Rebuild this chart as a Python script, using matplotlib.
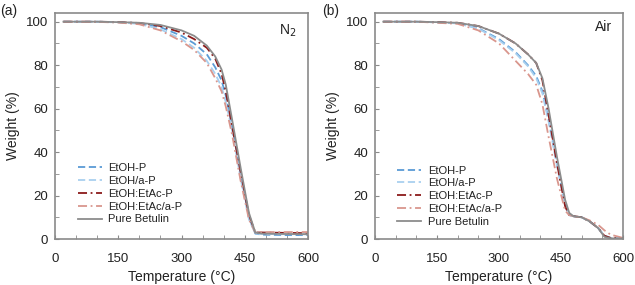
import matplotlib
matplotlib.use("Agg")
import matplotlib.pyplot as plt
from matplotlib.ticker import MultipleLocator

plt.rcParams['font.family'] = ['Liberation Sans', 'DejaVu Sans']

names = ['EtOH-P', 'EtOH/a-P', 'EtOH:EtAc-P', 'EtOH:EtAc/a-P', 'Pure Betulin']
colors = ['#5b9bd5', '#a9d0ef', '#8b1a1a', '#d9968d', '#8c8c8c']
styles = [(0, (4, 2)), (0, (4, 2)), (0, (5, 2, 1, 2)), (0, (5, 2, 1, 2)), '-']

# N2 atmosphere
t_n2 = [20, 100, 150, 200, 250, 300, 330, 360, 380, 395, 405, 420, 440, 460, 475, 490, 550, 600]
n2 = {
    'EtOH-P':        [100, 100, 99.8, 99.3, 97.5, 93.5, 90, 85, 79, 73, 66, 52, 30, 10, 2.5, 2.0, 1.8, 1.8],
    'EtOH/a-P':      [100, 99.9, 99.7, 99.0, 96.5, 92, 88, 82, 76, 70, 63, 50, 28, 9, 2.5, 2.3, 2.2, 2.2],
    'EtOH:EtAc-P':   [100, 100, 99.8, 99.4, 98, 95, 92, 88, 83, 76, 68, 52, 31, 11, 3, 3, 2.8, 2.7],
    'EtOH:EtAc/a-P': [100, 99.9, 99.6, 98.8, 96, 91, 87, 81, 74, 68, 61, 48, 27, 9, 3, 3.2, 3.2, 3.2],
    'Pure Betulin':  [100, 100, 99.8, 99.5, 98.5, 96, 93.5, 89, 84, 78, 71, 55, 33, 12, 3, 2.5, 2.3, 2.2],
}

# Air atmosphere
t_air = [20, 100, 150, 200, 250, 300, 340, 370, 390, 405, 420, 440, 460, 470, 480, 500, 520, 540, 555, 570, 600]
air = {
    'EtOH-P':        [100, 100, 99.7, 99.3, 97, 92, 86, 80, 75, 68, 55, 35, 16, 11, 10.5, 10, 8, 5, 1.5, 0.5, 0.3],
    'EtOH/a-P':      [100, 100, 99.7, 99.2, 96.8, 91.5, 85.5, 79.5, 74, 67, 54, 34, 15, 11, 10.5, 10, 8, 5, 1.5, 0.5, 0.3],
    'EtOH:EtAc-P':   [100, 100, 99.8, 99.5, 98, 94.5, 90, 85, 81, 73, 57, 35, 15, 11, 10.5, 10, 8, 5, 1.5, 0.5, 0.3],
    'EtOH:EtAc/a-P': [100, 100, 99.5, 99, 96, 90, 82, 76, 71, 62, 47, 28, 13, 11, 10.5, 10, 8.5, 6.5, 4, 2, 0.5],
    'Pure Betulin':  [100, 100, 99.8, 99.5, 98, 94.5, 90, 85, 81, 74, 60, 38, 18, 12, 10.5, 10, 8, 5, 1, 0.3, 0.2],
}

fig = plt.figure(figsize=(6.35, 2.85), dpi=100)
ax1 = fig.add_axes([55/635, 1-239/285, 253/635, 226/285])
ax2 = fig.add_axes([375/635, 1-239/285, 248/635, 226/285])

def style_axes(ax, t, data, cond, cond_y, leg_xy):
    for n, c, ls in zip(names, colors, styles):
        ax.plot(t, data[n], color=c, linestyle=ls, lw=1.3, label=n)
    ax.set_xlim(0, 600)
    ax.set_ylim(0, 104)
    ax.xaxis.set_major_locator(MultipleLocator(150))
    ax.xaxis.set_minor_locator(MultipleLocator(50))
    ax.yaxis.set_major_locator(MultipleLocator(20))
    ax.yaxis.set_minor_locator(MultipleLocator(10))
    for s in ax.spines.values():
        s.set_color('#8a8a8a')
        s.set_linewidth(1.2)
    ax.tick_params(which='both', direction='in', color='#8a8a8a', length=3,
                   labelsize=9.5, labelcolor='#222222', pad=5)
    ax.tick_params(axis='x', which='both', pad=10)
    ax.set_xlabel('Temperature (\u00b0C)', fontsize=10, color='#222222', labelpad=4)
    ax.set_ylabel('Weight (%)', fontsize=10, color='#222222', labelpad=4)
    ax.text(0.955, cond_y, cond, transform=ax.transAxes, ha='right', va='center',
            fontsize=10, color='#222222')
    leg = ax.legend(loc='upper left', bbox_to_anchor=leg_xy, frameon=False,
                    fontsize=8, handlelength=2.15, handletextpad=0.6,
                    labelspacing=0.25, borderpad=0, borderaxespad=0)
    for txt in leg.get_texts():
        txt.set_color('#222222')

style_axes(ax1, t_n2, n2, 'N$_2$', 0.92, (0.09, 0.335))
style_axes(ax2, t_air, air, 'Air', 0.938, (0.089, 0.325))

fig.text(0.0, 0.985, '(a)', fontsize=10, va='top', ha='left', color='#222222')
fig.text(322/635, 0.985, '(b)', fontsize=10, va='top', ha='left', color='#222222')

fig.savefig('out.png', dpi=100)
